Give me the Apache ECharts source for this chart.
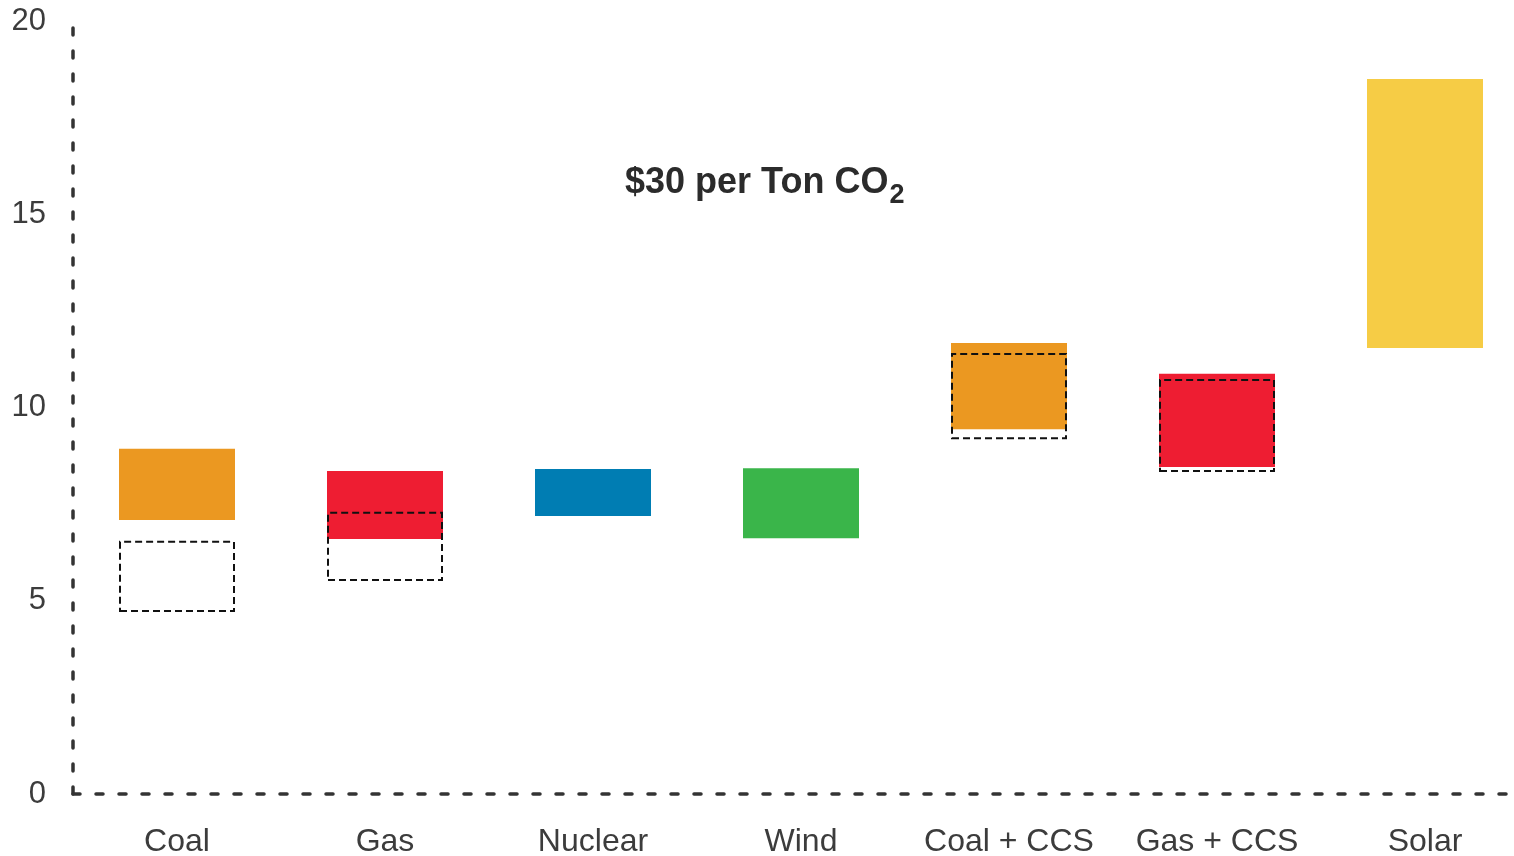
<!DOCTYPE html>
<html>
<head>
<meta charset="utf-8">
<script src="https://cdn.jsdelivr.net/npm/echarts@6/dist/echarts.min.js"></script>
<style>
html,body{margin:0;padding:0;background:#fff;}
#chart{width:1514px;height:856px;}
</style>
</head>
<body>
<div id="chart"></div>
<script>
const categories = ['Coal', 'Gas', 'Nuclear', 'Wind', 'Coal + CCS', 'Gas + CCS', 'Solar'];
// Range with $30/ton CO2 (coloured bars)
const lowWithTax  = [7.09, 6.60, 7.19, 6.62, 9.44, 8.46, 11.54];
const highWithTax = [8.93, 8.36, 8.41, 8.43, 11.67, 10.87, 18.50];
// Range without carbon price (dashed boxes)
const lowNoTax  = [4.71, 5.51, null, null, 9.18, 8.33, null];
const highNoTax = [6.55, 7.30, null, null, 11.41, 10.74, null];
const yTicks = [0, 5, 10, 15, 20];

const barColors = ['#EB9821', '#EE1D32', '#007DB3', '#3AB54A', '#EB9821', '#EE1D32', '#F6CC45'];

const chart = echarts.init(document.getElementById('chart'), null, {renderer: 'canvas'});
const labelColor = '#3c3c3c';
const axisDash = {color: '#333', width: 3.5, type: [7, 16]};
const ff = 'Liberation Sans, Arial, sans-serif';

chart.setOption({
  animation: false,
  backgroundColor: '#fff',
  title: {
    text: '{a|$30 per Ton CO}{s|2}',
    left: 620,
    top: 153,
    textStyle: {
      rich: {
        a: {fontFamily: ff, fontWeight: 'bold', fontSize: 36, color: '#2b2b2b'},
        s: {fontFamily: ff, fontWeight: 'bold', fontSize: 27, color: '#2b2b2b', padding: [24, 0, 0, 1]}
      }
    }
  },
  grid: {left: 73, width: 1456, top: 21, height: 773, containLabel: false, outerBoundsMode: 'none'},
  xAxis: {
    type: 'category',
    data: categories,
    axisLine: {show: true, lineStyle: axisDash},
    axisTick: {show: false},
    axisLabel: {color: labelColor, fontSize: 32, fontFamily: ff, margin: 32, interval: 0},
    splitLine: {show: false}
  },
  yAxis: {
    type: 'value',
    min: yTicks[0],
    max: yTicks[yTicks.length - 1],
    interval: yTicks[1] - yTicks[0],
    axisLine: {show: true, lineStyle: axisDash},
    axisTick: {show: false},
    axisLabel: {color: labelColor, fontSize: 31, fontFamily: ff, margin: 27, padding: [6, 0, 0, 0]},
    splitLine: {show: false}
  },
  series: [
    {
      type: 'bar', stack: 'tax', barWidth: 116, barGap: '-100%',
      itemStyle: {color: 'rgba(0,0,0,0)'},
      data: lowWithTax, silent: true
    },
    {
      type: 'bar', stack: 'tax', barWidth: 116, barGap: '-100%',
      data: highWithTax.map((h, i) => ({value: +(h - lowWithTax[i]).toFixed(2), itemStyle: {color: barColors[i]}}))
    },
    {
      type: 'bar', stack: 'notax', barWidth: 116, barGap: '-100%',
      itemStyle: {color: 'rgba(0,0,0,0)'},
      data: lowNoTax, silent: true
    },
    {
      type: 'bar', stack: 'notax', barWidth: 116, barGap: '-100%',
      itemStyle: {color: 'rgba(0,0,0,0)', borderColor: '#111', borderWidth: 2, borderType: [7, 4]},
      data: highNoTax.map((h, i) => h == null ? null : +(h - lowNoTax[i]).toFixed(2))
    }
  ]
});
</script>
</body>
</html>
